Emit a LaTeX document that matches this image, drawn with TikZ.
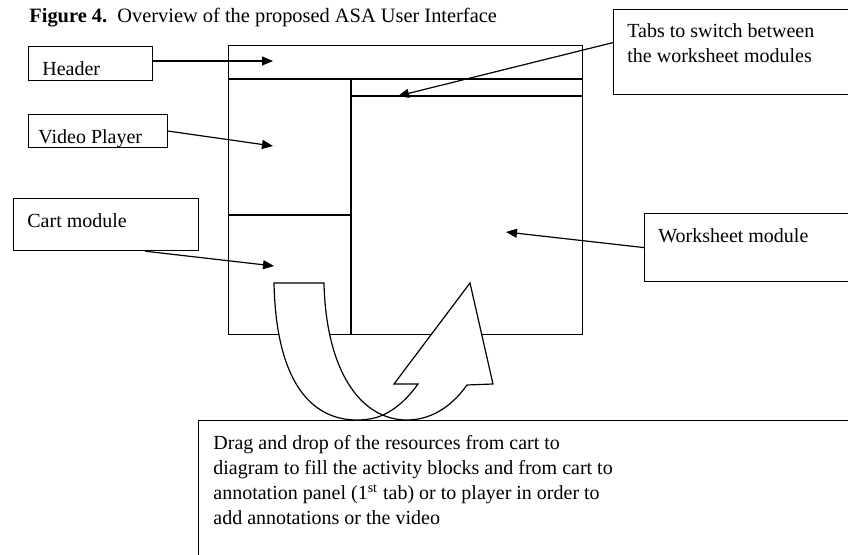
\documentclass[tikz,border=0pt]{standalone}
\usepackage{fontspec}
\setmainfont{Liberation Serif}
\usetikzlibrary{arrows.meta,positioning}
\tikzset{
  >={Triangle[length=5.5pt,width=4.5pt]},
  panel/.style={draw,line width=0.6pt,inner sep=0pt,anchor=north west},
  callout/.style={draw,line width=0.6pt,fill=white,inner sep=0pt,anchor=north west},
  note/.style={inner sep=0pt,anchor=north west,align=left,
    font=\fontsize{10}{12.5}\selectfont},
  pointer/.style={->,line width=0.6pt},
  uturn/.style={draw,fill=white,line width=0.6pt,line join=miter},
  divider/.style={line width=0.6pt},
}

\begin{document}
\begin{tikzpicture}[x=0.5pt,y=-0.5pt]
  \clip (0,0) rectangle (848,555);
  % caption
  \node[note,anchor=base west,font=\fontsize{10.2}{12.5}\selectfont] (title) at (29,23)
    {\textbf{Figure 4.}\ \ Overview of the proposed ASA User Interface};

  % the interface mock-up
  \node[panel,minimum width=177pt,minimum height=144.5pt] (win) at (228,45) {};
  \coordinate (split) at (351,79);
  \coordinate (tabline) at (351,96);
  \coordinate (cartsplit) at (351,215);
  \draw[divider] (win.west |- split) -- (win.east |- split);
  \draw[divider] (split) -- (split |- win.south);
  \draw[divider] (tabline) -- (win.east |- tabline);
  \draw[divider] (cartsplit) -- (win.west |- cartsplit);

  % drag and drop u-turn arrow
  \path[uturn] (274,283) -- (324,283)
    .. controls (326,370) and (360,420) .. (407,420)
    .. controls (435,420) and (455,402) .. (467,385)
    -- (493,384) -- (470,283) -- (394,384) -- (418,384)
    .. controls (408,398) and (398,407) .. (387,413)
    .. controls (378,418) and (368,420) .. (357,420)
    .. controls (310,420) and (276,380) .. (274,283) -- cycle;

  % callouts
  \node[callout,minimum width=62pt,minimum height=17pt] (hdr) at (28,46) {};
  \node[note,below right=7.5pt and 7pt of hdr.north west] (hdrtxt) {Header};

  \node[callout,minimum width=69.5pt,minimum height=16.5pt] (vid) at (28,114) {};
  \node[note,below right=7.5pt and 5pt of vid.north west] (vidtxt) {Video Player};

  \node[callout,minimum width=92.5pt,minimum height=26pt] (cart) at (13,198) {};
  \node[note,below right=7.5pt and 7pt of cart.north west] (carttxt) {Cart module};

  \node[callout,minimum width=122.5pt,minimum height=42.5pt] (tabbox) at (613,9) {};
  \node[note,below right=7pt and 7pt of tabbox.north west] (tabtxt)
    {Tabs to switch between\\the worksheet modules};

  \node[callout,minimum width=107pt,minimum height=34pt] (wsbox) at (644,213) {};
  \node[note,below right=7.5pt and 7pt of wsbox.north west] (wstxt) {Worksheet module};

  \node[callout,minimum width=330pt,minimum height=75pt] (dragbox) at (198,420) {};
  \node[note,below right=7.5pt and 7.5pt of dragbox.north west] (dragtxt)
    {Drag and drop of the resources from cart to\\
     diagram to fill the activity blocks and from cart to\\
     annotation panel (1\textsuperscript{st} tab) or to player in order to\\
     add annotations or the video};

  % pointers into the mock-up
  \coordinate (hdrpt) at (273,61);
  \coordinate (vidpt) at (273,146);
  \coordinate (cartpt) at (274,266);
  \coordinate (tabpt) at (398,96);
  \coordinate (wspt) at (506,232);
  \draw[pointer] (hdr.east |- hdrpt) -- (hdrpt);
  \draw[pointer] (vid.east) -- (vidpt);
  \draw[pointer] ([xshift=-27pt]cart.south east) -- (cartpt);
  \draw[pointer] ([yshift=4.75pt]tabbox.west) -- (tabpt);
  \draw[pointer] (wsbox.west) -- (wspt);
\end{tikzpicture}
\end{document}
